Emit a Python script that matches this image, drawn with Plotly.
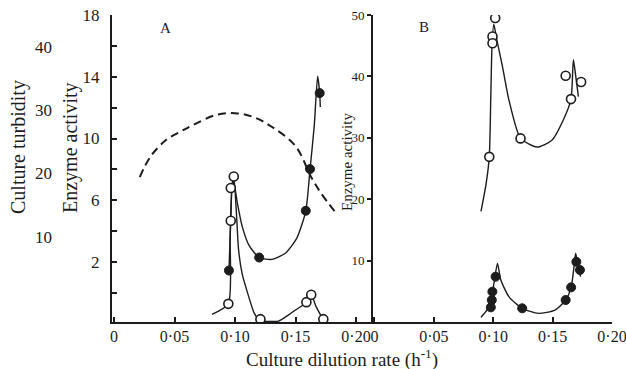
import plotly.graph_objects as go

W, H = 626, 369
INK = "#1c1c1c"
FONT = "Liberation Serif"

# ---------------- Panel A (enzyme activity, turbidity on a second scale) ----------------
a_open_x = [0.0945, 0.0965, 0.0965, 0.0990, 0.1210, 0.1590, 0.1630, 0.1730]
a_open_y = [-0.71, 4.67, 6.79, 7.54, -1.70, -0.60, -0.12, -1.70]

a_filled_x = [0.0950, 0.1200, 0.1585, 0.1620, 0.1700]
a_filled_y = [1.45, 2.29, 5.32, 8.02, 12.94]

# fitted curve through the open points
a_open_curve_x = [0.081, 0.0945, 0.0960, 0.0975, 0.0990, 0.1010, 0.1030, 0.1060, 0.1100,
                  0.1160, 0.1210, 0.1300, 0.1360, 0.1450, 0.1500, 0.1590, 0.1630, 0.1670, 0.1730]
a_open_curve_y = [-1.39, -0.71, 3.64, 6.95, 7.51, 5.41, 2.75, 1.21, 0.10,
                  -1.33, -1.80, -1.85, -1.83, -1.39, -1.11, -0.62, -0.14, -0.89, -1.75]

# fitted curve through the filled points
a_filled_curve_x = [0.0950, 0.0965, 0.0980, 0.0995, 0.1020, 0.1060, 0.1115, 0.1200, 0.1306,
                    0.1416, 0.1510, 0.1585, 0.1620, 0.1655, 0.1683, 0.1700, 0.1705]
a_filled_curve_y = [1.43, 4.74, 7.18, 6.95, 5.80, 4.29, 3.09, 2.28, 2.17,
                    2.57, 3.53, 5.30, 8.00, 10.82, 14.03, 12.92, 12.04]

# culture turbidity (dashed), in turbidity units
turb_x = [0.0213, 0.0300, 0.0432, 0.0550, 0.0650, 0.0840, 0.1000, 0.1150, 0.1300,
          0.1500, 0.1630, 0.1710, 0.1836]
turb_y = [19.4, 22.6, 25.3, 26.6, 27.6, 29.2, 29.5, 28.9, 27.4,
          24.3, 19.4, 16.9, 13.7]

# ---------------- Panel B (enzyme activity 0-50) ----------------
b_open_x = [0.1017, 0.0994, 0.0994, 0.0967, 0.1230, 0.1610, 0.1655, 0.1740]
b_open_y = [49.5, 46.5, 45.4, 26.9, 29.9, 40.1, 36.3, 39.1]

b_filled_x = [0.0980, 0.0988, 0.0993, 0.1020, 0.1244, 0.1610, 0.1656, 0.1730, 0.1700]
b_filled_y = [2.39, 3.58, 4.94, 7.38, 2.23, 3.58, 5.64, 8.47, 9.8]

b_open_curve_x = [0.0897, 0.0940, 0.0967, 0.0980, 0.0990, 0.1005, 0.1030, 0.1078, 0.1133,
                  0.1230, 0.1370, 0.1494, 0.1590, 0.1655, 0.1675, 0.1695, 0.1717]
b_open_curve_y = [18.0, 22.5, 26.9, 37.0, 45.0, 48.5, 46.0, 41.6, 36.1,
                  29.9, 28.5, 29.6, 32.9, 36.3, 42.7, 40.0, 36.7]

b_filled_curve_x = [0.0897, 0.0950, 0.0985, 0.1010, 0.1036, 0.1064, 0.1133, 0.1244, 0.1380,
                    0.1520, 0.1610, 0.1656, 0.1680, 0.1694, 0.1720, 0.1735]
b_filled_curve_y = [0.76, 2.0, 3.8, 6.8, 9.55, 6.84, 4.10, 2.23, 1.40,
                    1.95, 3.58, 5.64, 9.0, 11.2, 8.6, 7.4]

x_tickvals = [0, 0.05, 0.10, 0.15, 0.20]
x_ticktext = ["0", "0·05", "0·10", "0·15", "0·20"]
a_y_tickvals = [2, 6, 10, 14, 18]
a_y_minor = [0, 4, 8, 12, 16]
turb_tickvals = [10, 20, 30, 40]
b_y_tickvals = [10, 20, 30, 40, 50]


def px_x(p):
    return p / W


def px_y(p):
    return 1 - p / H


fig = go.Figure()

curve_line = dict(color=INK, width=1.4, shape="spline", smoothing=0.6)
open_marker = dict(symbol="circle", size=9, color="white", line=dict(color=INK, width=1.6))
filled_marker = dict(symbol="circle", size=9, color=INK, line=dict(color=INK, width=1))

# Panel A
fig.add_trace(go.Scatter(x=turb_x, y=turb_y, xaxis="x", yaxis="y3", mode="lines",
                         line=dict(color=INK, width=2, dash="8px,5px", shape="spline", smoothing=1)))
fig.add_trace(go.Scatter(x=a_open_curve_x, y=a_open_curve_y, xaxis="x", yaxis="y",
                         mode="lines", line=curve_line))
fig.add_trace(go.Scatter(x=a_filled_curve_x, y=a_filled_curve_y, xaxis="x", yaxis="y",
                         mode="lines", line=curve_line))
fig.add_trace(go.Scatter(x=a_filled_x, y=a_filled_y, xaxis="x", yaxis="y",
                         mode="markers", marker=filled_marker))
fig.add_trace(go.Scatter(x=a_open_x, y=a_open_y, xaxis="x", yaxis="y",
                         mode="markers", marker=open_marker))

# Panel B
fig.add_trace(go.Scatter(x=b_open_curve_x, y=b_open_curve_y, xaxis="x2", yaxis="y2",
                         mode="lines", line=curve_line))
fig.add_trace(go.Scatter(x=b_filled_curve_x, y=b_filled_curve_y, xaxis="x2", yaxis="y2",
                         mode="lines", line=curve_line))
fig.add_trace(go.Scatter(x=b_filled_x, y=b_filled_y, xaxis="x2", yaxis="y2",
                         mode="markers", marker=filled_marker))
fig.add_trace(go.Scatter(x=b_open_x, y=b_open_y, xaxis="x2", yaxis="y2",
                         mode="markers", marker=open_marker))

tick_font = dict(family=FONT, size=17, color=INK)
x_tick_font = dict(family=FONT, size=16, color=INK)
y_dom = [px_y(322), px_y(15)]
common = dict(showgrid=False, zeroline=False, automargin=False)


def note(text, x, y, size, angle=0):
    return dict(text=text, x=px_x(x), y=px_y(y), xref="paper", yref="paper",
                xanchor="center", yanchor="middle", textangle=angle, showarrow=False,
                font=dict(family=FONT, size=size, color=INK))


fig.update_layout(
    width=W, height=H,
    margin=dict(l=0, r=0, t=0, b=0, autoexpand=False),
    paper_bgcolor="white", plot_bgcolor="rgba(0,0,0,0)",
    showlegend=False,
    font=dict(family=FONT, color=INK),
    xaxis=dict(domain=[px_x(112), px_x(371)], range=[-0.00165, 0.2124],
               tickvals=x_tickvals, ticktext=x_ticktext, ticks="inside", ticklen=5,
               tickwidth=1.5, tickcolor=INK, showline=True, linecolor=INK, linewidth=2,
               tickfont=x_tick_font, anchor="y", ticklabelstandoff=-1,
               ticklabeloverflow="allow", **common),
    yaxis=dict(domain=y_dom, range=[-1.886, 18.0], tickvals=a_y_tickvals,
               minor=dict(tickvals=a_y_minor, ticks="inside", ticklen=5, tickwidth=1.5,
                          tickcolor=INK, showgrid=False),
               ticks="inside", ticklen=5, tickwidth=1.5, tickcolor=INK, showline=True,
               linecolor=INK, linewidth=2, tickfont=tick_font, anchor="x",
               ticklabelstandoff=7, **common),
    yaxis3=dict(overlaying="y", anchor="free", position=px_x(52), side="left",
                range=[-3.47, 45.0], tickvals=turb_tickvals, showline=False, ticks="",
                tickfont=tick_font, **common),
    xaxis2=dict(domain=[px_x(373), px_x(612)], range=[-0.0012, 0.2],
                tickvals=x_tickvals, ticktext=x_ticktext, ticks="inside", ticklen=5,
                tickwidth=1.5, tickcolor=INK, showline=True, linecolor=INK, linewidth=2,
                tickfont=x_tick_font, anchor="y2", ticklabelstandoff=-1,
                ticklabeloverflow="allow", **common),
    yaxis2=dict(domain=y_dom, range=[0, 50], tickvals=b_y_tickvals, ticks="outside",
                ticklen=4, tickwidth=1.5, tickcolor=INK, showline=True, linecolor=INK,
                linewidth=2, tickfont=dict(family=FONT, size=13, color=INK), anchor="x2",
                ticklabelstandoff=0, **common),
    annotations=[
        note("Culture turbidity", 18, 147, 20, -90),
        note("Enzyme activity", 70, 148, 20, -90),
        note("Enzyme activity", 347, 162, 15, -90),
        note("Culture dilution rate (h<sup>-1</sup>)", 342, 358, 19),
        note("A", 165, 28, 15),
        note("B", 424, 27, 15),
    ],
)

fig.write_html("out.html")
